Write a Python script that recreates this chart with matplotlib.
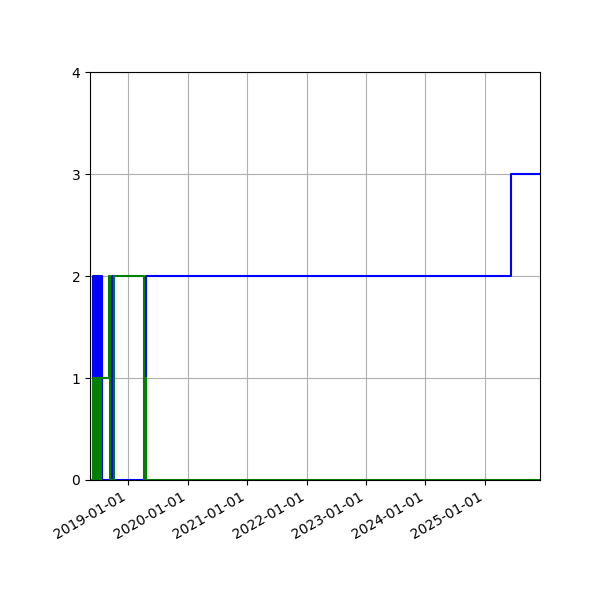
import matplotlib
matplotlib.use("Agg")
import matplotlib.pyplot as plt
import matplotlib.dates as mdates
import pandas as pd

blue_dates = ['2018-05-11', '2018-05-31', '2018-06-04', '2018-06-08', '2018-06-12',
              '2018-06-16', '2018-06-20', '2018-06-24', '2018-06-28', '2018-07-02',
              '2018-07-06', '2018-07-10', '2018-07-14', '2018-07-18', '2018-07-22',
              '2018-09-21', '2018-09-27', '2019-04-19', '2025-06-10', '2025-12-05']
blue_values = [0, 2, 0, 2, 0, 2, 0, 2, 0, 2, 0, 2, 0, 2, 0, 2, 0, 2, 3, 3]

green_dates = ['2018-05-11', '2018-05-31', '2018-06-03', '2018-06-07', '2018-06-11',
               '2018-06-15', '2018-06-19', '2018-06-23', '2018-06-27', '2018-07-01',
               '2018-07-05', '2018-07-09', '2018-07-13', '2018-07-17', '2018-07-21',
               '2018-09-04', '2018-09-12', '2018-10-05', '2019-04-05', '2019-04-18',
               '2019-04-20', '2025-12-05']
green_values = [0, 1, 0, 1, 0, 1, 0, 1, 0, 1, 0, 1, 0, 1, 1, 2, 0, 2, 0, 1, 0, 0]

y_ticks = [0, 1, 2, 3, 4]

bd = pd.to_datetime(blue_dates)
gd = pd.to_datetime(green_dates)

fig, ax = plt.subplots(figsize=(6, 6), dpi=100)
ax.step(bd, blue_values, where='post', color='blue', linewidth=1.5)
ax.step(gd, green_values, where='post', color='green', linewidth=1.5)

ax.set_xlim(min(bd.min(), gd.min()), max(bd.max(), gd.max()))
ax.set_ylim(0, 4)
ax.set_yticks(y_ticks)
ax.xaxis.set_major_locator(mdates.YearLocator())
ax.xaxis.set_major_formatter(mdates.DateFormatter('%Y-%m-%d'))
ax.grid(True)
fig.autofmt_xdate()
fig.subplots_adjust(left=0.15, right=0.9, top=0.88, bottom=0.2)
fig.savefig('out.png')
